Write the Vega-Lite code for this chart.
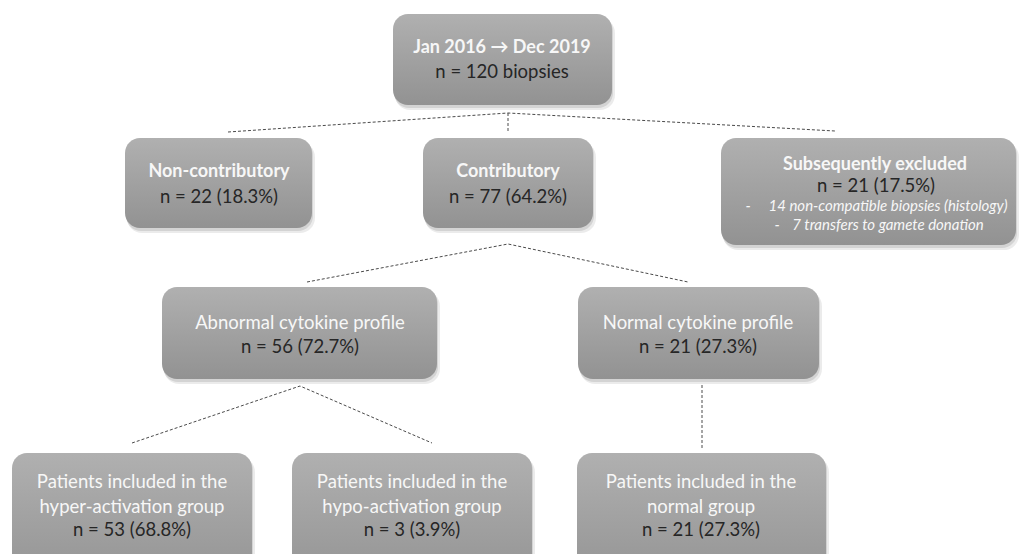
{
  "$schema": "https://vega.github.io/schema/vega-lite/v6.json",
  "width": 1020,
  "height": 554,
  "autosize": {"type": "fit", "contains": "padding"},
  "padding": 0,
  "background": "white",
  "config": {"view": {"stroke": null}},
  "datasets": {
    "boxes": [
      {"id": "top", "x1": 393, "x2": 612, "y1": 14, "y2": 105},
      {"id": "noncontrib", "x1": 125, "x2": 312, "y1": 138, "y2": 228},
      {"id": "contrib", "x1": 423, "x2": 593, "y1": 138, "y2": 228},
      {"id": "excluded", "x1": 721, "x2": 1016, "y1": 138, "y2": 245},
      {"id": "abnormal", "x1": 162, "x2": 437, "y1": 287, "y2": 379},
      {"id": "normal", "x1": 578, "x2": 819, "y1": 287, "y2": 379},
      {"id": "hyper", "x1": 12, "x2": 252, "y1": 453, "y2": 590},
      {"id": "hypo", "x1": 292, "x2": 532, "y1": 453, "y2": 590},
      {"id": "normalgroup", "x1": 577, "x2": 826, "y1": 453, "y2": 590}
    ],
    "links": [
      {"link": "a", "seq": 1, "x": 228, "y": 132},
      {"link": "a", "seq": 2, "x": 508, "y": 113},
      {"link": "a", "seq": 3, "x": 835, "y": 131},
      {"link": "b", "seq": 1, "x": 508, "y": 113},
      {"link": "b", "seq": 2, "x": 508, "y": 133},
      {"link": "c", "seq": 1, "x": 307, "y": 282},
      {"link": "c", "seq": 2, "x": 508, "y": 244},
      {"link": "c", "seq": 3, "x": 688, "y": 282},
      {"link": "d", "seq": 1, "x": 132, "y": 443},
      {"link": "d", "seq": 2, "x": 300, "y": 386},
      {"link": "d", "seq": 3, "x": 432, "y": 443},
      {"link": "e", "seq": 1, "x": 702, "y": 385},
      {"link": "e", "seq": 2, "x": 702, "y": 448}
    ],
    "labels": [
      {"role": "title", "label": "Jan 2016 → Dec 2019", "x": 502, "y": 48},
      {"role": "count", "label": "n = 120 biopsies", "x": 502, "y": 72},
      {"role": "title", "label": "Non-contributory", "x": 219, "y": 172},
      {"role": "count", "label": "n = 22 (18.3%)", "x": 219, "y": 197},
      {"role": "title", "label": "Contributory", "x": 508, "y": 172},
      {"role": "count", "label": "n = 77 (64.2%)", "x": 508, "y": 197},
      {"role": "title", "label": "Subsequently excluded", "x": 875, "y": 165},
      {"role": "count", "label": "n = 21 (17.5%)", "x": 876, "y": 186},
      {"role": "note", "label": "-", "x": 748, "y": 206},
      {"role": "note", "label": "14 non-compatible biopsies (histology)", "x": 888, "y": 206},
      {"role": "note", "label": "-", "x": 777, "y": 225},
      {"role": "note", "label": "7 transfers to gamete donation", "x": 888, "y": 225},
      {"role": "head", "label": "Abnormal cytokine profile", "x": 300, "y": 323},
      {"role": "count", "label": "n = 56 (72.7%)", "x": 300, "y": 347},
      {"role": "head", "label": "Normal cytokine profile", "x": 698, "y": 323},
      {"role": "count", "label": "n = 21 (27.3%)", "x": 698, "y": 347},
      {"role": "head", "label": "Patients included in the", "x": 132, "y": 482},
      {"role": "head", "label": "hyper-activation group", "x": 132, "y": 507},
      {"role": "count", "label": "n = 53 (68.8%)", "x": 132, "y": 530},
      {"role": "head", "label": "Patients included in the", "x": 412, "y": 482},
      {"role": "head", "label": "hypo-activation group", "x": 412, "y": 507},
      {"role": "count", "label": "n = 3 (3.9%)", "x": 412, "y": 530},
      {"role": "head", "label": "Patients included in the", "x": 701, "y": 482},
      {"role": "head", "label": "normal group", "x": 701, "y": 507},
      {"role": "count", "label": "n = 21 (27.3%)", "x": 701, "y": 530}
    ]
  },
  "layer": [
    {
      "data": {"name": "boxes"},
      "mark": {"type": "rect", "cornerRadius": 15, "color": "#000000", "opacity": 0.08, "xOffset": 2, "yOffset": 4, "x2Offset": 3, "y2Offset": 5, "clip": true},
      "encoding": {
        "x": {"field": "x1", "type": "quantitative", "scale": {"domain": [0, 1020], "nice": false, "zero": false}, "axis": null},
        "x2": {"field": "x2"},
        "y": {"field": "y1", "type": "quantitative", "scale": {"domain": [0, 554], "nice": false, "zero": false, "reverse": true}, "axis": null},
        "y2": {"field": "y2"}
      }
    },
    {
      "data": {"name": "boxes"},
      "mark": {"type": "rect", "cornerRadius": 15, "color": "#000000", "opacity": 0.1, "xOffset": 1, "yOffset": 2, "x2Offset": 1, "y2Offset": 3, "clip": true},
      "encoding": {
        "x": {"field": "x1", "type": "quantitative", "axis": null},
        "x2": {"field": "x2"},
        "y": {"field": "y1", "type": "quantitative", "axis": null},
        "y2": {"field": "y2"}
      }
    },
    {
      "data": {"name": "boxes"},
      "mark": {
        "type": "rect",
        "cornerRadius": 15,
        "clip": true,
        "color": {
          "gradient": "linear", "x1": 0, "y1": 0, "x2": 0, "y2": 1,
          "stops": [{"offset": 0, "color": "#b0b0b0"}, {"offset": 1, "color": "#929292"}]
        }
      },
      "encoding": {
        "x": {"field": "x1", "type": "quantitative", "axis": null},
        "x2": {"field": "x2"},
        "y": {"field": "y1", "type": "quantitative", "axis": null},
        "y2": {"field": "y2"}
      }
    },
    {
      "data": {"name": "links"},
      "mark": {"type": "line", "color": "#4a4a4a", "strokeWidth": 1, "strokeDash": [3, 2]},
      "encoding": {
        "x": {"field": "x", "type": "quantitative", "axis": null},
        "y": {"field": "y", "type": "quantitative", "axis": null},
        "detail": {"field": "link", "type": "nominal"},
        "order": {"field": "seq", "type": "quantitative"}
      }
    },
    {
      "data": {"name": "labels"},
      "transform": [{"filter": "datum.role === 'title'"}],
      "mark": {"type": "text", "font": "Lato", "fontSize": 18, "fontWeight": "bold", "color": "#f7f7f7", "align": "center", "baseline": "middle"},
      "encoding": {
        "x": {"field": "x", "type": "quantitative", "axis": null},
        "y": {"field": "y", "type": "quantitative", "axis": null},
        "text": {"field": "label"}
      }
    },
    {
      "data": {"name": "labels"},
      "transform": [{"filter": "datum.role === 'head'"}],
      "mark": {"type": "text", "font": "Lato", "fontSize": 18.5, "color": "#f7f7f7", "align": "center", "baseline": "middle"},
      "encoding": {
        "x": {"field": "x", "type": "quantitative", "axis": null},
        "y": {"field": "y", "type": "quantitative", "axis": null},
        "text": {"field": "label"}
      }
    },
    {
      "data": {"name": "labels"},
      "transform": [{"filter": "datum.role === 'count'"}],
      "mark": {"type": "text", "font": "Lato", "fontSize": 18.5, "color": "#262626", "align": "center", "baseline": "middle"},
      "encoding": {
        "x": {"field": "x", "type": "quantitative", "axis": null},
        "y": {"field": "y", "type": "quantitative", "axis": null},
        "text": {"field": "label"}
      }
    },
    {
      "data": {"name": "labels"},
      "transform": [{"filter": "datum.role === 'note'"}],
      "mark": {"type": "text", "font": "Lato", "fontSize": 15, "fontStyle": "italic", "color": "#f7f7f7", "align": "center", "baseline": "middle"},
      "encoding": {
        "x": {"field": "x", "type": "quantitative", "axis": null},
        "y": {"field": "y", "type": "quantitative", "axis": null},
        "text": {"field": "label"}
      }
    }
  ]
}
